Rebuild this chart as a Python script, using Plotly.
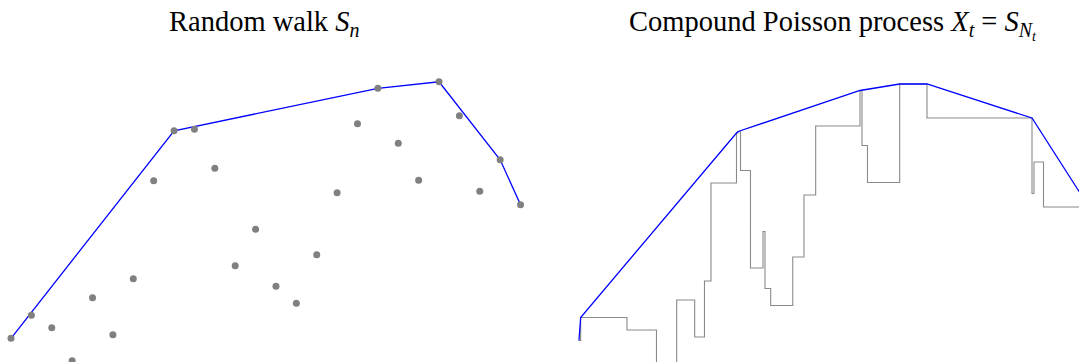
import plotly.graph_objects as go

# random walk values S_0 .. S_25
walk = [0.00, 0.46, 0.21, -0.45, 0.81, 0.07, 1.19, 3.15, 4.15, 4.18,
        3.40, 1.45, 2.18, 1.04, 0.70, 1.67, 2.91, 4.29, 5.00, 3.90,
        3.16, 5.13, 4.45, 2.94, 3.57, 2.67]
steps = list(range(len(walk)))

# jump times of the Poisson clock N_t, horizon T
jump_times = [0.083, 2.353, 3.799, 4.789, 5.672, 6.152, 6.471, 7.721, 7.804,
              7.917, 8.407, 9.020, 9.118, 9.397, 10.480, 11.029, 11.603,
              13.775, 13.873, 14.142, 15.721, 17.059, 22.206, 22.304, 22.770]
horizon = 25.0

titles = ["Random walk <i>S<sub>n</sub></i>",
          "Compound Poisson process <i>X<sub>t</sub></i> = <i>S<sub>N<sub>t</sub></sub></i>"]


def upper_hull(xs, ys):
    # concave majorant = upper convex hull
    pts = sorted(zip(xs, ys))
    hull = []
    for p in pts:
        while len(hull) >= 2:
            (ox, oy), (ax, ay) = hull[-2], hull[-1]
            if (ax - ox) * (p[1] - oy) - (ay - oy) * (p[0] - ox) >= 0:
                hull.pop()
            else:
                break
        hull.append(p)
    return [h[0] for h in hull], [h[1] for h in hull]


# step path of X_t = S_{N_t}
times = [0.0] + jump_times + [horizon]
px, py = [], []
for i, s in enumerate(walk):
    px += [times[i], times[i + 1]]
    py += [s, s]

hx_l, hy_l = upper_hull(steps, walk)
hx_r, hy_r = upper_hull(px, py)

fig = go.Figure()

# left: random walk + majorant
fig.add_trace(go.Scatter(x=hx_l, y=hy_l, mode="lines",
                         line=dict(color="#0000ff", width=1.3),
                         xaxis="x", yaxis="y", hoverinfo="skip"))
fig.add_trace(go.Scatter(x=steps, y=walk, mode="markers",
                         marker=dict(color="#808080", size=7),
                         xaxis="x", yaxis="y"))

# right: compound poisson path + majorant
fig.add_trace(go.Scatter(x=times[:-1] + [horizon], y=walk + [walk[-1]],
                         mode="lines", line=dict(color="#8a8a8a", width=1.1, shape="hv"),
                         xaxis="x2", yaxis="y2"))
fig.add_trace(go.Scatter(x=hx_r, y=hy_r, mode="lines",
                         line=dict(color="#0000ff", width=1.3),
                         xaxis="x2", yaxis="y2", hoverinfo="skip"))

hidden = dict(showgrid=False, zeroline=False, showticklabels=False,
              showline=False, ticks="", fixedrange=True)

fig.update_layout(
    width=1079, height=362,
    margin=dict(l=0, r=0, t=0, b=0),
    paper_bgcolor="white", plot_bgcolor="white",
    showlegend=False,
    xaxis=dict(domain=[0, 0.5], range=[-0.54, 25.93], **hidden),
    yaxis=dict(domain=[0, 1], range=[-0.474, 6.766], **hidden),
    xaxis2=dict(domain=[0.52, 1], range=[-0.877, 24.51], anchor="y2", **hidden),
    yaxis2=dict(domain=[0, 1], range=[-0.43, 6.81], anchor="x2", **hidden),
    font=dict(family="Liberation Serif, serif", color="black"),
    annotations=[
        dict(text=titles[0], x=264 / 1079, y=1 - 4 / 362, xref="paper", yref="paper",
             xanchor="center", yanchor="top", showarrow=False, font=dict(size=28.5)),
        dict(text=titles[1], x=833 / 1079, y=1 - 4 / 362, xref="paper", yref="paper",
             xanchor="center", yanchor="top", showarrow=False, font=dict(size=28.5)),
    ],
)

# page body has an 8px default margin; drop it so the figure fills the window
fig.write_html("out.html", config={"displayModeBar": False},
               post_script="document.body.style.margin='0';")
